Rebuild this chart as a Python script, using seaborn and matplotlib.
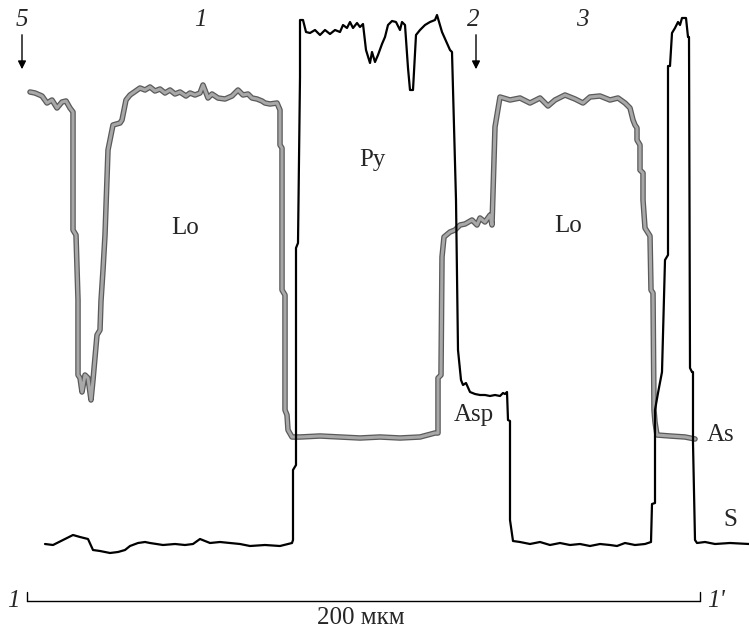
import matplotlib
matplotlib.use("Agg")
import matplotlib.pyplot as plt
import matplotlib.patheffects as pe
import seaborn as sns
import pandas as pd

# === PROFILE DATA (distance along line 1-1', signal level; screen units, y grows downward) ===
as_x = [30, 35, 42, 47, 52, 57, 62, 66, 70, 73, 73, 76, 78, 78, 80, 82, 85, 88, 91, 93, 97, 100, 101,
        103, 105, 108, 113, 120, 122, 126, 130, 140, 145, 150, 155, 160, 165, 170, 175, 180, 186, 190,
        195, 200, 203, 208, 212, 218, 225, 232, 238, 243, 248, 252, 257, 262, 265, 270, 277, 280, 280,
        282, 282, 285, 285, 287, 288, 292, 300, 320, 340, 360, 380, 400, 420, 435, 438, 438, 441, 442,
        444, 450, 455, 460, 465, 472, 477, 480, 485, 490, 492, 494, 495, 500, 510, 520, 530, 540, 548,
        555, 565, 575, 583, 590, 600, 610, 618, 625, 630, 633, 635, 637, 637, 640, 640, 643, 643, 645,
        650, 651, 653, 654, 655, 657, 670, 685, 695]
as_y = [92, 93, 96, 103, 100, 108, 102, 101, 108, 112, 230, 235, 300, 375, 378, 392, 375, 378, 400, 380,
        335, 330, 301, 270, 235, 150, 125, 123, 120, 100, 95, 88, 90, 87, 91, 89, 93, 90, 94, 92, 96, 93,
        95, 93, 85, 98, 94, 98, 99, 96, 90, 95, 94, 98, 99, 101, 103, 104, 103, 110, 145, 148, 290, 295,
        410, 415, 430, 437, 437, 436, 437, 438, 437, 438, 437, 433, 433, 378, 375, 257, 237, 232, 230,
        225, 224, 220, 225, 218, 222, 215, 225, 160, 127, 97, 100, 98, 103, 98, 106, 100, 95, 99, 103,
        97, 96, 100, 98, 103, 108, 120, 125, 128, 140, 145, 170, 173, 200, 228, 236, 290, 293, 410, 422,
        435, 436, 437, 439]

s_x = [45, 53, 63, 73, 80, 88, 93, 100, 110, 118, 125, 130, 138, 145, 150, 163, 175, 185, 193, 200, 210,
       220, 230, 240, 250, 265, 280, 292, 293, 293, 296, 296, 298, 300, 300, 303, 306, 310, 315, 320,
       325, 330, 335, 340, 343, 347, 350, 353, 357, 360, 363, 366, 370, 372, 375, 378, 382, 385, 388,
       392, 396, 400, 402, 405, 408, 410, 413, 416, 420, 425, 430, 435, 437, 440, 442, 450, 452, 456,
       458, 461, 463, 466, 470, 475, 480, 485, 490, 495, 500, 503, 505, 507, 508, 510, 510, 513, 520,
       530, 540, 550, 560, 570, 580, 590, 600, 610, 617, 625, 635, 645, 651, 652, 655, 655, 658, 662,
       665, 668, 668, 670, 672, 675, 678, 680, 682, 686, 688, 689, 690, 692, 693, 693, 695, 697, 705,
       715, 730, 749]
s_y = [544, 545, 540, 535, 537, 539, 550, 551, 553, 552, 550, 546, 543, 542, 543, 545, 544, 545, 544,
       539, 543, 542, 543, 544, 546, 545, 546, 543, 540, 470, 465, 248, 243, 77, 20, 20, 32, 33, 30, 35,
       30, 34, 30, 32, 25, 28, 22, 28, 23, 27, 24, 50, 63, 52, 62, 55, 44, 37, 25, 21, 22, 30, 22, 25,
       68, 90, 90, 35, 30, 25, 22, 20, 15, 25, 32, 50, 52, 200, 350, 380, 385, 383, 392, 394, 395,
       395, 396, 395, 396, 393, 394, 392, 420, 421, 520, 541, 542, 544, 542, 545, 543, 545, 544, 546,
       544, 545, 546, 543, 545, 544, 542, 504, 503, 410, 393, 372, 260, 255, 66, 66, 33, 28, 22, 25,
       18, 18, 37, 37, 368, 372, 372, 443, 540, 543, 542, 544, 543, 544]

labels = {"Lo": (185, 228), "Py": (372, 160), "Lo ": (568, 226), "Asp": (474, 415),
          "As": (721, 435), "S": (730, 520)}
markers = ["5", "1", "2", "3", "4"]
marker_x = [22, 200, 473, 582, 757]
arrow_x = [22, 476]
scale_left, scale_right = 27, 700
scale_text = "200 мкм"

as_df = pd.DataFrame({"x": as_x, "y": as_y})
s_df = pd.DataFrame({"x": s_x, "y": s_y})

sns.set_theme(style="white")
plt.rcParams['font.family'] = ['Liberation Serif', 'DejaVu Serif']
FS = 18

fig = plt.figure(figsize=(7.49, 6.32), dpi=100)
ax = fig.add_axes([0, 0, 1, 1])

sns.lineplot(data=as_df, x="x", y="y", sort=False, estimator=None, ax=ax,
             color="#a8a8a8", linewidth=2.2,
             path_effects=[pe.Stroke(linewidth=4.0, foreground="#5a5a5a"), pe.Normal()])
sns.lineplot(data=s_df, x="x", y="y", sort=False, estimator=None, ax=ax,
             color="black", linewidth=1.6)

for name, (tx, ty) in labels.items():
    ax.text(tx, ty, name.strip(), fontsize=FS, ha="center", va="center")

for m, mx in zip(markers, marker_x):
    ax.text(mx, 20, m, fontsize=FS, style="italic", ha="center", va="center")

for axx in arrow_x:
    ax.annotate("", xy=(axx, 72), xytext=(axx, 32),
                arrowprops=dict(arrowstyle="-|>", color="black", lw=1.0, mutation_scale=12))

# scale bar 1 - 1'
ax.plot([scale_left, scale_right], [601, 601], color="black", lw=1.0)
ax.plot([scale_left, scale_left], [592, 601], color="black", lw=1.0)
ax.plot([scale_right, scale_right], [592, 601], color="black", lw=1.0)
ax.text(13, 601, "1", fontsize=FS, style="italic", ha="center", va="center")
ax.text(716, 601, "1'", fontsize=FS, style="italic", ha="center", va="center")
ax.text(361, 618, scale_text, fontsize=FS, ha="center", va="center")

ax.set_xlim(0, 749)
ax.set_ylim(632, 0)
ax.set_axis_off()

plt.savefig("out.png", dpi=100)
plt.close()
